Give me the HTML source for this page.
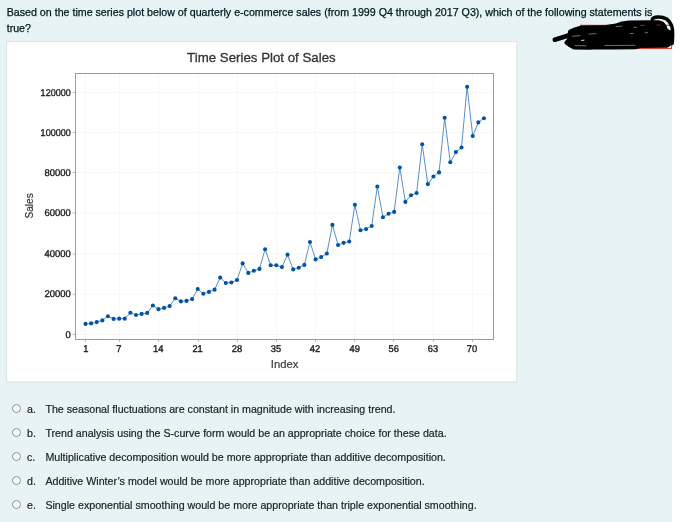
<!DOCTYPE html>
<html lang="en"><head><meta charset="utf-8"><title>Question</title>
<style>
html,body{margin:0;padding:0;background:#fff;}
body{width:682px;height:522px;position:relative;overflow:hidden;font-family:"Liberation Sans",Arial,sans-serif;}
#q{position:absolute;left:0;top:0;width:672px;height:522px;background:#e7f3f5;}
#qt{position:absolute;left:6.7px;top:4px;margin:0;font-size:10.667px;line-height:16px;color:#001a1e;white-space:nowrap;-webkit-text-stroke:0.25px #001a1e;}
#chart{position:absolute;left:6px;top:41px;width:510px;height:339px;background:#fff;border:1px solid #e3e8ea;}
#plot{position:absolute;left:0;top:0;}
.opt{position:absolute;left:0;height:24px;line-height:24px;font-size:10.667px;color:#20262a;white-space:nowrap;-webkit-text-stroke:0.2px #20262a;}
.rb{position:absolute;left:12px;top:7.5px;width:7px;height:7px;border:1px solid #8e9294;border-radius:50%;background:#fdfefe;}
.lt{position:absolute;left:27px;top:0;}
.tx{position:absolute;left:45.4px;top:0;}
#scr{position:absolute;left:540px;top:8px;}
</style></head>
<body>
<div id="q">
<p id="qt">Based on the time series plot below of quarterly e-commerce sales (from 1999 Q4 through 2017 Q3), which of the following statements is<br>true?</p>
<svg id="plot" width="672" height="522" viewBox="0 0 672 522" font-family="'Liberation Sans',Arial,sans-serif">
<rect x="6.65" y="41.6" width="510.2" height="340.3" fill="#fff" stroke="#dde1e2" stroke-width="1"/>
<g stroke="#f7f7f7" stroke-width="1"><line x1="85.5" y1="73.5" x2="85.5" y2="339.5"/><line x1="119.5" y1="73.5" x2="119.5" y2="339.5"/><line x1="158.5" y1="73.5" x2="158.5" y2="339.5"/><line x1="198.5" y1="73.5" x2="198.5" y2="339.5"/><line x1="237.5" y1="73.5" x2="237.5" y2="339.5"/><line x1="276.5" y1="73.5" x2="276.5" y2="339.5"/><line x1="315.5" y1="73.5" x2="315.5" y2="339.5"/><line x1="354.5" y1="73.5" x2="354.5" y2="339.5"/><line x1="393.5" y1="73.5" x2="393.5" y2="339.5"/><line x1="433.5" y1="73.5" x2="433.5" y2="339.5"/><line x1="472.5" y1="73.5" x2="472.5" y2="339.5"/><line x1="75.5" y1="334.4" x2="493.5" y2="334.4"/><line x1="75.5" y1="294.25" x2="493.5" y2="294.25"/><line x1="75.5" y1="254.0" x2="493.5" y2="254.0"/><line x1="75.5" y1="213.0" x2="493.5" y2="213.0"/><line x1="75.5" y1="172.5" x2="493.5" y2="172.5"/><line x1="75.5" y1="132.4" x2="493.5" y2="132.4"/><line x1="75.5" y1="92.4" x2="493.5" y2="92.4"/></g>
<g stroke="#bcbcbc" stroke-width="1"><line x1="85.5" y1="339.5" x2="85.5" y2="342.0"/><line x1="119.5" y1="339.5" x2="119.5" y2="342.0"/><line x1="158.5" y1="339.5" x2="158.5" y2="342.0"/><line x1="198.5" y1="339.5" x2="198.5" y2="342.0"/><line x1="237.5" y1="339.5" x2="237.5" y2="342.0"/><line x1="276.5" y1="339.5" x2="276.5" y2="342.0"/><line x1="315.5" y1="339.5" x2="315.5" y2="342.0"/><line x1="354.5" y1="339.5" x2="354.5" y2="342.0"/><line x1="393.5" y1="339.5" x2="393.5" y2="342.0"/><line x1="433.5" y1="339.5" x2="433.5" y2="342.0"/><line x1="472.5" y1="339.5" x2="472.5" y2="342.0"/><line x1="72.5" y1="334.4" x2="75.5" y2="334.4"/><line x1="72.5" y1="294.25" x2="75.5" y2="294.25"/><line x1="72.5" y1="254.0" x2="75.5" y2="254.0"/><line x1="72.5" y1="213.0" x2="75.5" y2="213.0"/><line x1="72.5" y1="172.5" x2="75.5" y2="172.5"/><line x1="72.5" y1="132.4" x2="75.5" y2="132.4"/><line x1="72.5" y1="92.4" x2="75.5" y2="92.4"/></g>
<rect x="75.5" y="73.5" width="418.0" height="266.0" fill="none" stroke="#9c9c9c" stroke-width="1" shape-rendering="crispEdges"/>
<polyline points="85.50,323.90 91.11,323.40 96.72,322.10 102.34,320.40 107.95,316.20 113.56,318.90 119.17,318.65 124.78,318.65 130.40,312.80 136.01,315.00 141.62,313.90 147.23,312.90 152.84,305.50 158.46,309.15 164.07,307.90 169.68,306.10 175.29,298.25 180.90,301.40 186.52,300.90 192.13,299.10 197.74,289.00 203.35,293.80 208.96,291.90 214.58,289.65 220.19,277.60 225.80,283.00 231.41,282.50 237.02,280.00 242.64,263.40 248.25,272.90 253.86,270.80 259.47,268.90 265.08,249.20 270.70,265.30 276.31,265.30 281.92,267.10 287.53,254.65 293.14,269.40 298.76,267.70 304.37,264.90 309.98,241.95 315.59,259.40 321.20,257.10 326.82,253.55 332.43,224.90 338.04,245.00 343.65,242.85 349.26,241.50 354.88,204.80 360.49,230.25 366.10,229.10 371.71,226.00 377.32,186.45 382.94,217.25 388.55,213.75 394.16,211.90 399.77,167.50 405.38,201.90 411.00,195.25 416.61,193.00 422.22,144.30 427.83,184.10 433.44,176.50 439.06,172.40 444.67,117.80 450.28,162.30 455.89,152.10 461.50,147.50 467.12,86.85 472.73,136.00 478.34,122.40 483.95,118.30" fill="none" stroke="#2a6fb5" stroke-width="0.78" stroke-linejoin="round"/>
<g fill="#0054a6"><circle cx="85.50" cy="323.90" r="2.05"/><circle cx="91.11" cy="323.40" r="2.05"/><circle cx="96.72" cy="322.10" r="2.05"/><circle cx="102.34" cy="320.40" r="2.05"/><circle cx="107.95" cy="316.20" r="2.05"/><circle cx="113.56" cy="318.90" r="2.05"/><circle cx="119.17" cy="318.65" r="2.05"/><circle cx="124.78" cy="318.65" r="2.05"/><circle cx="130.40" cy="312.80" r="2.05"/><circle cx="136.01" cy="315.00" r="2.05"/><circle cx="141.62" cy="313.90" r="2.05"/><circle cx="147.23" cy="312.90" r="2.05"/><circle cx="152.84" cy="305.50" r="2.05"/><circle cx="158.46" cy="309.15" r="2.05"/><circle cx="164.07" cy="307.90" r="2.05"/><circle cx="169.68" cy="306.10" r="2.05"/><circle cx="175.29" cy="298.25" r="2.05"/><circle cx="180.90" cy="301.40" r="2.05"/><circle cx="186.52" cy="300.90" r="2.05"/><circle cx="192.13" cy="299.10" r="2.05"/><circle cx="197.74" cy="289.00" r="2.05"/><circle cx="203.35" cy="293.80" r="2.05"/><circle cx="208.96" cy="291.90" r="2.05"/><circle cx="214.58" cy="289.65" r="2.05"/><circle cx="220.19" cy="277.60" r="2.05"/><circle cx="225.80" cy="283.00" r="2.05"/><circle cx="231.41" cy="282.50" r="2.05"/><circle cx="237.02" cy="280.00" r="2.05"/><circle cx="242.64" cy="263.40" r="2.05"/><circle cx="248.25" cy="272.90" r="2.05"/><circle cx="253.86" cy="270.80" r="2.05"/><circle cx="259.47" cy="268.90" r="2.05"/><circle cx="265.08" cy="249.20" r="2.05"/><circle cx="270.70" cy="265.30" r="2.05"/><circle cx="276.31" cy="265.30" r="2.05"/><circle cx="281.92" cy="267.10" r="2.05"/><circle cx="287.53" cy="254.65" r="2.05"/><circle cx="293.14" cy="269.40" r="2.05"/><circle cx="298.76" cy="267.70" r="2.05"/><circle cx="304.37" cy="264.90" r="2.05"/><circle cx="309.98" cy="241.95" r="2.05"/><circle cx="315.59" cy="259.40" r="2.05"/><circle cx="321.20" cy="257.10" r="2.05"/><circle cx="326.82" cy="253.55" r="2.05"/><circle cx="332.43" cy="224.90" r="2.05"/><circle cx="338.04" cy="245.00" r="2.05"/><circle cx="343.65" cy="242.85" r="2.05"/><circle cx="349.26" cy="241.50" r="2.05"/><circle cx="354.88" cy="204.80" r="2.05"/><circle cx="360.49" cy="230.25" r="2.05"/><circle cx="366.10" cy="229.10" r="2.05"/><circle cx="371.71" cy="226.00" r="2.05"/><circle cx="377.32" cy="186.45" r="2.05"/><circle cx="382.94" cy="217.25" r="2.05"/><circle cx="388.55" cy="213.75" r="2.05"/><circle cx="394.16" cy="211.90" r="2.05"/><circle cx="399.77" cy="167.50" r="2.05"/><circle cx="405.38" cy="201.90" r="2.05"/><circle cx="411.00" cy="195.25" r="2.05"/><circle cx="416.61" cy="193.00" r="2.05"/><circle cx="422.22" cy="144.30" r="2.05"/><circle cx="427.83" cy="184.10" r="2.05"/><circle cx="433.44" cy="176.50" r="2.05"/><circle cx="439.06" cy="172.40" r="2.05"/><circle cx="444.67" cy="117.80" r="2.05"/><circle cx="450.28" cy="162.30" r="2.05"/><circle cx="455.89" cy="152.10" r="2.05"/><circle cx="461.50" cy="147.50" r="2.05"/><circle cx="467.12" cy="86.85" r="2.05"/><circle cx="472.73" cy="136.00" r="2.05"/><circle cx="478.34" cy="122.40" r="2.05"/><circle cx="483.95" cy="118.30" r="2.05"/></g>
<text x="261.4" y="62.2" text-anchor="middle" font-size="13.6" fill="#333" stroke="#333" stroke-width="0.3" textLength="148.6" lengthAdjust="spacingAndGlyphs">Time Series Plot of Sales</text>
<g text-rendering="geometricPrecision" font-size="9.8" font-weight="normal" fill="#1c1c1c" stroke="#1c1c1c" stroke-width="0.38"><text transform="translate(85.9,352) scale(0.95,1)" text-anchor="middle">1</text><text transform="translate(118.9,352) scale(0.95,1)" text-anchor="middle">7</text><text transform="translate(158.2,352) scale(0.95,1)" text-anchor="middle">14</text><text transform="translate(197.6,352) scale(0.95,1)" text-anchor="middle">21</text><text transform="translate(236.9,352) scale(0.95,1)" text-anchor="middle">28</text><text transform="translate(275.9,352) scale(0.95,1)" text-anchor="middle">35</text><text transform="translate(314.9,352) scale(0.95,1)" text-anchor="middle">42</text><text transform="translate(354.7,352) scale(0.95,1)" text-anchor="middle">49</text><text transform="translate(393.8,352) scale(0.95,1)" text-anchor="middle">56</text><text transform="translate(432.9,352) scale(0.95,1)" text-anchor="middle">63</text><text transform="translate(471.9,352) scale(0.95,1)" text-anchor="middle">70</text><text transform="translate(70.7,337.50) scale(0.965,1)" text-anchor="end">0</text><text transform="translate(70.7,297.35) scale(0.965,1)" text-anchor="end">20000</text><text transform="translate(70.7,257.10) scale(0.965,1)" text-anchor="end">40000</text><text transform="translate(70.7,216.10) scale(0.965,1)" text-anchor="end">60000</text><text transform="translate(70.7,175.60) scale(0.965,1)" text-anchor="end">80000</text><text transform="translate(70.7,135.50) scale(0.92,1)" text-anchor="end">100000</text><text transform="translate(70.7,95.50) scale(0.92,1)" text-anchor="end">120000</text></g>
<text x="284.6" y="368.3" text-anchor="middle" font-size="11.3" fill="#383838" stroke="#383838" stroke-width="0.2">Index</text>
<text transform="translate(32.6,205.9) rotate(-90) scale(0.92,1)" text-anchor="middle" font-size="11" fill="#383838" stroke="#383838" stroke-width="0.2">Sales</text>
</svg>
<div class="opt" style="top:396.5px"><span class="rb"></span><span class="lt">a.</span><span class="tx">The seasonal fluctuations are constant in magnitude with increasing trend.</span></div>
<div class="opt" style="top:420.5px"><span class="rb"></span><span class="lt">b.</span><span class="tx">Trend analysis using the S-curve form would be an appropriate choice for these data.</span></div>
<div class="opt" style="top:444.5px"><span class="rb"></span><span class="lt">c.</span><span class="tx">Multiplicative decomposition would be more appropriate than additive decomposition.</span></div>
<div class="opt" style="top:468.5px"><span class="rb"></span><span class="lt">d.</span><span class="tx">Additive Winter’s model would be more appropriate than additive decomposition.</span></div>
<div class="opt" style="top:492.5px"><span class="rb"></span><span class="lt">e.</span><span class="tx">Single exponential smoothing would be more appropriate than triple exponential smoothing.</span></div>

</div>
<svg id="scr" width="142" height="50" viewBox="540 8 142 50">
<rect x="580.4" y="25.3" width="91.2" height="23.1" fill="none" stroke="#e0301f" stroke-width="1"/>
<g fill="#000" stroke="#000" stroke-linecap="round" stroke-linejoin="round">
<path stroke-width="4" d="M570 31.5 L575 29.4 L581 27.6 L596 27.2 L605 27.2 L616 25.6 L622 23.5 L629 22.4 L651 22.3 L659 22.3 L662.5 23.6 L664.6 26.5 L665.6 29.5 L668 31.6 L670.8 32.5 L670.8 40 L670.3 43.4 L667 45.7 L640 46 L636 47.2 L614 47.4 L596 47.2 L590 47.7 L574 47.4 L570.5 45.5 L566.4 42.6 L569 40 L569.5 36 Z"/>
<path stroke-width="4.6" fill="none" d="M554.8 39.7 L570 35"/>
<path stroke-width="3.5" fill="none" d="M652.3 19.4 C652.8 18,654 17.2,657.9 17 C661 16.9,664 17.6,666.5 18.9 C668.3 20,670.2 22.3,671.7 26 C672.6 28.5,672.7 32,672.6 36 C672.5 39,672.4 41,672.2 43.4"/>
</g>
<g fill="none" stroke-linecap="round">
<path stroke="#c4ccce" stroke-width="0.55" d="M572.5 36.3 L580 35.6 M589 34.1 L596 33.6 M575 45.6 L586 45.8 M605 45.5 L635 45.3 M616 26.6 L622 26.1 M630 33.6 L633.5 33.3 M645 32.8 L647.5 32.5 M634 27.4 L636.5 27.4"/>
<path stroke="#f4f4f4" stroke-width="0.9" d="M581.5 40.4 L584 40.2"/>
<path stroke="#c8392d" stroke-width="0.7" d="M640.5 25.4 L644.5 25.4 M657 25 L660 25.2"/>
</g>
</svg>
</body></html>
